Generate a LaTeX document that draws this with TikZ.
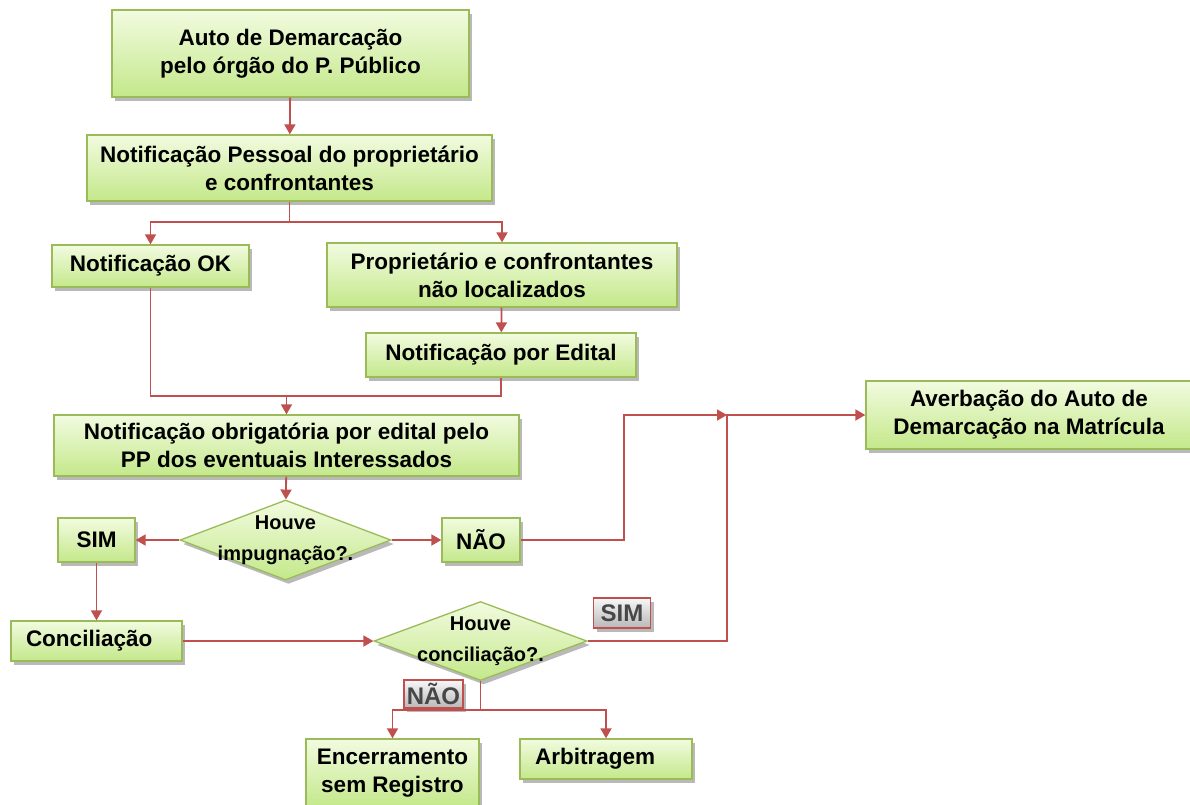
\documentclass[tikz,border=0pt]{standalone}
\usepackage{fontspec}
\setmainfont{Liberation Sans}
\usetikzlibrary{shapes.geometric,arrows.meta,shadows}
\definecolor{boxedge}{HTML}{9BBB59}
\definecolor{boxtop}{HTML}{F2FBE0}
\definecolor{boxbot}{HTML}{C4E88A}
\definecolor{arrred}{HTML}{C0504D}
\tikzset{
    shade/.style={drop shadow={shadow xshift=3pt,shadow yshift=-4pt,fill=black!50,opacity=.55}},
    box/.style={rectangle,draw=boxedge,line width=1.3pt,top color=boxtop,bottom color=boxbot,
        align=center,inner sep=2pt,font=\bfseries\fontsize{22.5}{28}\selectfont,shade},
    leftbox/.style={box,align=left,inner xsep=15pt},
    decision/.style={diamond,draw=boxedge,line width=1.3pt,top color=boxtop,bottom color=boxbot,
        inner sep=0pt,shade},
    tag/.style={rectangle,draw=arrred,line width=1.3pt,top color=black!3,bottom color=black!28,
        inner sep=1pt,text=black!72,font=\bfseries\fontsize{24}{26}\selectfont,shade},
    line/.style={draw=arrred,line width=1.8pt},
    arr/.style={line,-{Triangle[width=11pt,length=10pt]}}
}
\begin{document}
\begin{tikzpicture}[x=1pt,y=-1pt]
        \useasboundingbox (0,0) rectangle (1190,804);
        \begin{scope}[every node/.style={box}]
            \node (auto) [minimum width=357,minimum height=87] at (290.5,53.5) {Auto de Demarcação\\pelo órgão do P. Público};
            \node (pessoal) [minimum width=405,minimum height=66] at (289.5,168) {Notificação Pessoal do proprietário\\e confrontantes};
            \node (ok) [minimum width=197,minimum height=42] at (150.5,266) {Notificação OK};
            \node (naoloc) [minimum width=350,minimum height=64] at (502,275) {Proprietário e confrontantes\\não localizados};
            \node (edital) [minimum width=270,minimum height=44] at (501,355) {Notificação por Edital};
            \node (obrig) [minimum width=465,minimum height=61] at (286.5,445.5) {Notificação obrigatória por edital pelo\\PP dos eventuais Interessados};
            \node (sim) [minimum width=77,minimum height=44] at (96.5,540) {SIM};
            \node (nao) [minimum width=78,minimum height=44] at (481,540) {NÃO};
            \node (averb) [minimum width=326,minimum height=68] at (1029,415) {Averbação do Auto de\\Demarcação na Matrícula};
            \node (enc) [minimum width=173,minimum height=68] at (392.5,773) {Encerramento\\sem Registro};
        \end{scope}
        \begin{scope}[every node/.style={leftbox}]
            \node (concil) [text width=141,minimum height=40] at (96.5,641) {Conciliação};
            \node (arb) [text width=142,minimum height=40] at (606,759) {Arbitragem};
        \end{scope}
        \begin{scope}[every node/.style={decision}]
            \node (impug) [minimum width=211,minimum height=80] at (285.5,540) {};
            \node (acordo) [minimum width=213,minimum height=79] at (480.5,641) {};
        \end{scope}
        \begin{scope}[every node/.style={align=center,font=\bfseries\fontsize{20}{31}\selectfont}]
            \node (impugtxt) at (impug) {Houve\\impugnação?.};
            \node (acordotxt) at (acordo) {Houve\\conciliação?.};
        \end{scope}
        \begin{scope}[every node/.style={tag}]
            \node (tagsim) [minimum width=57,minimum height=30] at (622,613) {SIM};
            \node (tagnao) [minimum width=59,minimum height=28] at (433.5,694) {NÃO};
        \end{scope}
        \coordinate (split) at (289.5,222);
        \coordinate (merge) at (286.5,396);
        \coordinate (join) at (727,415);
        \coordinate (split2) at (480.5,710);
        \begin{scope}[every edge/.style={arr}]
            \path
                (auto) edge (pessoal)
                (naoloc) edge (edital)
                (merge) edge (obrig)
                (obrig) edge (impug)
                (impug) edge (sim)
                (impug) edge (nao)
                (sim) edge (concil)
                (concil) edge (acordo);
        \end{scope}
        \draw[line] (pessoal.south) -- (split);
        \draw[arr] (split) -| (ok.north);
        \draw[arr] (split) -| (naoloc.north);
        \draw[line] (ok.south) |- (merge);
        \draw[line] (edital.south) |- (merge);
        \draw[arr] (nao.east) -- ++(103,0) |- (join);
        \draw[arr] (acordo.east) -| (join) -- (averb.west);
        \draw[line] (acordo.south) -- (split2);
        \draw[arr] (split2) -| (enc.north);
        \draw[arr] (split2) -| (arb.north);
    \end{tikzpicture}
\end{document}
